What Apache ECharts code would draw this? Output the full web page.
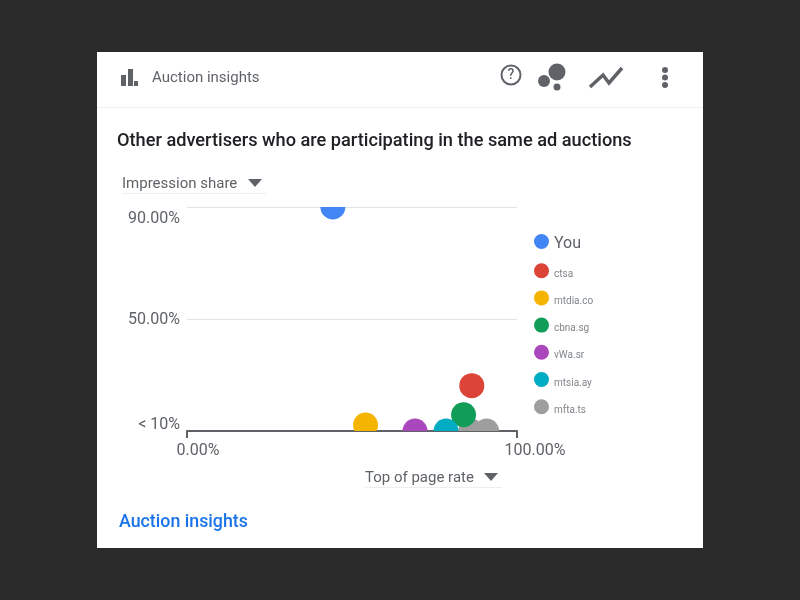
<!DOCTYPE html>
<html>
<head>
<meta charset="utf-8">
<style>html,body{margin:0;padding:0;background:#2b2b2b}#chart{width:800px;height:600px}</style>
<script src="https://cdn.jsdelivr.net/npm/echarts@6/dist/echarts.min.js"></script>
</head>
<body>
<div id="chart"></div>
<script>
// Advertiser names, colours and [top of page rate, impression share] pairs
const advertisers = ['You', 'ctsa', 'mtdia.co', 'cbna.sg', 'vWa.sr', 'mtsia.ay', 'mfta.ts'];
const colors = ['#4285f4', '#db4437', '#f4b400', '#0f9d58', '#ab47bc', '#00acc1', '#9e9e9e'];
const youValues = [[44.2, 90]];
const redValues = [[86.3, 26.2]];
const yellowValues = [[54.1, 12.1]];
const greenValues = [[83.8, 15.8]];
const purpleValues = [[69.1, 10]];
const cyanValues = [[78.5, 10]];
const greyValues = [[86.0, 10], [90.8, 10]];
const seriesValues = [youValues, redValues, yellowValues, greenValues, purpleValues, cyanValues, greyValues];
const yTickLabels = { 10: '{low|< 10%}', 50: '{mid|50.00%}', 90: '{high|90.00%}' };
const xTickLabels = { 0: '{a|0.00%}', 100: '{b|100.00%}' };

const ink = '#5f6368';
const font = 'Roboto';

function label(x, y, text, size, fill, weight) {
  return { type: 'text', x, y, style: { text, fontFamily: font, fontSize: size, fontWeight: weight || 400, fill, verticalAlign: 'middle' } };
}
function rect(x, y, width, height, fill) {
  return { type: 'rect', shape: { x, y, width, height }, style: { fill } };
}
function dot(cx, cy, r) {
  return { type: 'circle', shape: { cx, cy, r }, style: { fill: ink } };
}
function caret(cx, cy) {
  return { type: 'polygon', shape: { points: [[cx - 7, cy - 4], [cx + 7, cy - 4], [cx, cy + 4]] }, style: { fill: ink } };
}
function tickText(padding) {
  return { fontFamily: font, fontSize: 16, color: ink, padding };
}
// Bubbles are cut off at the plot edges, so each one is a circle inside the clipped grid
function bubble(params, api) {
  const [cx, cy] = api.coord([api.value(0), api.value(1)]);
  return { type: 'circle', shape: { cx, cy, r: 12.5 }, style: { fill: api.visual('color') } };
}

const chart = echarts.init(document.getElementById('chart'));
chart.setOption({
  backgroundColor: '#2b2b2b',
  animation: false,
  grid: { left: 187, right: 283, top: 207, bottom: 169 },
  xAxis: {
    type: 'value', min: 0, max: 100, interval: 100,
    axisLine: { show: true, lineStyle: { color: ink, width: 2 } },
    axisTick: { show: true, length: 7, lineStyle: { color: ink, width: 2 } },
    splitLine: { show: false },
    axisLabel: {
      margin: 12, fontFamily: font, fontSize: 16, color: ink,
      showMinLabel: true, showMaxLabel: true,
      formatter: v => xTickLabels[v],
      rich: { a: tickText([0, 0, 0, 22]), b: tickText([0, 0, 0, 36]) }
    }
  },
  yAxis: {
    type: 'value', min: 10, max: 90, interval: 40,
    axisLine: { show: false },
    axisTick: { show: false },
    splitLine: { show: true, lineStyle: { color: '#e3e4e6', width: 1 } },
    axisLabel: {
      margin: 7, fontFamily: font, fontSize: 16, color: ink,
      formatter: v => yTickLabels[v],
      rich: { high: tickText([24, 0, 0, 0]), mid: tickText([2, 0, 0, 0]), low: tickText([0, 0, 12, 0]) }
    }
  },
  legend: {
    orient: 'vertical', left: 529, top: 226,
    icon: 'circle', itemWidth: 15, itemHeight: 15, itemGap: 10.2,
    selectedMode: false,
    data: advertisers,
    formatter: n => n === 'You' ? '{you|' + n + '}' : '{other|' + n + '}',
    textStyle: {
      rich: {
        you: { fontFamily: font, fontSize: 16, color: ink, lineHeight: 15, padding: [5, 0, 0, 0] },
        other: { fontFamily: font, fontSize: 10, color: '#80868b', lineHeight: 15, padding: [7, 0, 0, 0] }
      }
    }
  },
  series: advertisers.map((name, i) => ({
    name, type: 'custom', data: seriesValues[i],
    coordinateSystem: 'cartesian2d',
    renderItem: bubble, clip: true,
    encode: { x: 0, y: 1 },
    z: name === 'mfta.ts' ? 1 : 2,
    itemStyle: { color: colors[i] },
    emphasis: { disabled: true }
  })),
  graphic: [
    { type: 'group', silent: true, z: -10, children: [
      rect(97, 52, 606, 496, '#ffffff'),
      rect(97, 107, 606, 1, '#eeeeee')
    ] },
    { type: 'group', silent: true, z: 10, children: [
      // header icons
      rect(121, 75, 5, 11, ink), rect(128, 69, 5, 17, ink), rect(134, 81, 4, 5, ink),
      { type: 'circle', shape: { cx: 511, cy: 75, r: 9.5 }, style: { fill: 'none', stroke: ink, lineWidth: 2 } },
      { type: 'text', x: 511, y: 75, style: { text: '?', fontFamily: font, fontSize: 14, fontWeight: 500, fill: ink, align: 'center', verticalAlign: 'middle' } },
      dot(557, 72, 8.5), dot(544, 81, 6), dot(557, 87, 3.5),
      { type: 'polyline', shape: { points: [[590, 87], [603, 75], [609, 83], [622, 68]] }, style: { fill: 'none', stroke: ink, lineWidth: 3.5 } },
      dot(665, 70, 3), dot(665, 77.5, 3), dot(665, 85, 3),
      // headings and controls
      label(152, 78, 'Auction insights', 15, ink),
      label(117, 141, 'Other advertisers who are participating in the same ad auctions', 18.2, '#202124', 500),
      label(122, 184, 'Impression share', 15, ink),
      caret(255, 183),
      rect(122, 193, 144, 1, '#eeeeee'),
      label(365, 478, 'Top of page rate', 15, ink),
      caret(491, 477),
      rect(365, 487, 137, 1, '#eeeeee'),
      label(119, 523, 'Auction insights', 17.8, '#1a73e8', 500)
    ] }
  ]
});
</script>
</body>
</html>
